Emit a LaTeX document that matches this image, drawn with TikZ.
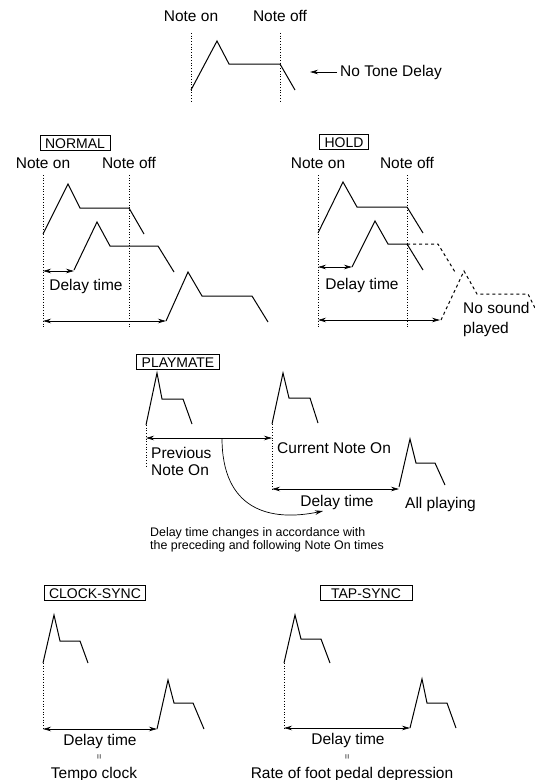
\documentclass[tikz,border=0pt]{standalone}
\usepackage{fontspec}
\setmainfont{Liberation Sans}
\usetikzlibrary{arrows.meta}

\begin{document}
\begin{tikzpicture}[x=1pt, y=-1pt,
    env/.style={line width=1pt, line join=miter},
    guide/.style={dotted, line width=0.7pt},
    held/.style={dash pattern=on 3pt off 3pt, line width=1pt},
    interval/.style={<->, line width=0.7pt, >={Stealth[length=8pt, width=4.5pt]}},
    lbl/.style={font=\fontsize{15.5}{17}\selectfont, inner sep=0pt},
    modebox/.style={draw, line width=0.8pt, font=\fontsize{14}{16}\selectfont,
        inner xsep=5pt, inner ysep=2.5pt, text height=10pt, text depth=0pt},
    remark/.style={font=\fontsize{12.4}{13}\selectfont, inner sep=0pt, align=left},
    equals/.style={rotate=90, font=\fontsize{9}{9}\selectfont, inner sep=0pt}]
    \useasboundingbox (0,0) rectangle (535,780);

    % no tone delay
    \node[lbl, anchor=base] (top-on) at (191,21) {Note on};
    \node[lbl, anchor=base] (top-off) at (280,21) {Note off};
    \draw[guide] (191,33) -- (191,102);
    \draw[guide] (280,33) -- (280,102);
    \draw[env] (191,90) -- (217,41) -- (229,64) -- (280,64) -- (295,90);
    \node[lbl, anchor=west] (top-none) at (340,72) {No Tone Delay};
    \coordinate (top-head) at (310,72);
    \draw[interval, ->] ([xshift=-3pt]top-none.west) -- (top-head);

    % normal
    \node[modebox] (normal) at (75,143) {NORMAL};
    \node[lbl, anchor=base] (nrm-on) at (43,168) {Note on};
    \node[lbl, anchor=base] (nrm-off) at (129,168) {Note off};
    \draw[guide] (43,175) -- (43,327);
    \draw[guide] (129,175) -- (129,327);
    \draw[env] (43,234) -- (68,184) -- (80,208) -- (129,208) -- (144,234);
    \draw[env] (74,270) -- (97,222) -- (110,246) -- (158,246) -- (174,272);
    \draw[env] (166,321) -- (188,272) -- (202,296) -- (252,296) -- (268,322);
    \coordinate (nrm-d1) at (43,271);
    \coordinate (nrm-d2) at (74,271);
    \draw[interval] (nrm-d1) -- (nrm-d2);
    \node[lbl, anchor=base] (nrm-delay) at (86,290) {Delay time};
    \coordinate (nrm-l1) at (43,321);
    \coordinate (nrm-l2) at (166,321);
    \draw[interval] (nrm-l1) -- (nrm-l2);

    % hold
    \node[modebox] (hold) at (344,142) {HOLD};
    \node[lbl, anchor=base] (hld-on) at (318,168) {Note on};
    \node[lbl, anchor=base] (hld-off) at (407,168) {Note off};
    \draw[guide] (318,175) -- (318,327);
    \draw[guide] (407,175) -- (407,327);
    \draw[env] (318,233) -- (343,182) -- (357,207) -- (407,207) -- (423,233);
    \draw[env] (352,267) -- (375,221) -- (388,244) -- (407,244) -- (423,270);
    \draw[held] (407,244) -- (438,244) -- (455,272);
    \draw[held] (441,320) -- (464,271) -- (477,294) -- (528,294) -- (535,308);
    \coordinate (hld-d1) at (318,267);
    \coordinate (hld-d2) at (352,267);
    \draw[interval] (hld-d1) -- (hld-d2);
    \node[lbl, anchor=base] (hld-delay) at (362,289) {Delay time};
    \coordinate (hld-l1) at (318,320);
    \coordinate (hld-l2) at (440,320);
    \draw[interval] (hld-l1) -- (hld-l2);
    \node[lbl, align=left, anchor=north west, font=\fontsize{15.5}{20}\selectfont]
        (nosound) at (463,302) {No sound\\played};

    % playmate
    \node[modebox] (playmate) at (178,362) {PLAYMATE};
    \draw[env] (146,425) -- (157,373) -- (162,399) -- (183,399) -- (192,424);
    \draw[guide] (146,425) -- (146,467);
    \draw[env] (272,424) -- (283,373) -- (289,398) -- (310,398) -- (318,423);
    \draw[guide] (272,424) -- (272,489);
    \draw[env] (399,487) -- (410,439) -- (416,463) -- (435,463) -- (445,485);
    \coordinate (prev) at (146,438);
    \coordinate (curr) at (272,438);
    \draw[interval] (prev) -- (curr);
    \coordinate (curr-low) at (272,489);
    \coordinate (all) at (399,489);
    \draw[interval] (curr-low) -- (all);
    \node[lbl, align=left, anchor=north west, font=\fontsize{15.5}{17}\selectfont]
        (prev-lbl) at (151,447) {Previous\\Note On};
    \node[lbl, anchor=base west] (curr-lbl) at (277,453) {Current Note On};
    \node[lbl, anchor=base] (ply-delay) at (337,506) {Delay time};
    \node[lbl, anchor=base west] (all-lbl) at (405,508) {All playing};
    \coordinate (bend) at (222,438);
    \coordinate (bend-end) at (323,511);
    \draw[interval, ->] (bend) .. controls (222,510) and (270,522) .. (bend-end);
    \node[remark, anchor=north west] (rule) at (150,527)
        {Delay time changes in accordance with\\the preceding and following Note On times};

    % clock-sync
    \node[modebox] (clock) at (95,593) {CLOCK-SYNC};
    \draw[env] (43,663) -- (54,615) -- (60,641) -- (80,641) -- (88,663);
    \draw[guide] (43,663) -- (43,729);
    \draw[env] (157,729) -- (168,680) -- (174,703) -- (193,703) -- (204,729);
    \coordinate (clk-l1) at (43,729);
    \coordinate (clk-l2) at (157,729);
    \draw[interval] (clk-l1) -- (clk-l2);
    \node[lbl, anchor=base] (clk-delay) at (100,745) {Delay time};
    \node[equals] (clk-eq) at (100,757) {=};
    \node[lbl, anchor=base] (clk-tempo) at (94,778) {Tempo clock};

    % tap-sync
    \node[modebox, minimum width=92pt] (tap) at (366,593) {TAP-SYNC};
    \draw[env] (284,663) -- (295,615) -- (301,639) -- (321,639) -- (330,663);
    \draw[guide] (284,663) -- (284,728);
    \draw[env] (410,728) -- (422,679) -- (427,703) -- (447,703) -- (456,728);
    \coordinate (tap-l1) at (284,728);
    \coordinate (tap-l2) at (410,728);
    \draw[interval] (tap-l1) -- (tap-l2);
    \node[lbl, anchor=base] (tap-delay) at (348,744) {Delay time};
    \node[equals] (tap-eq) at (348,757) {=};
    \node[lbl, anchor=base] (tap-rate) at (352,778) {Rate of foot pedal depression};
\end{tikzpicture}
\end{document}
